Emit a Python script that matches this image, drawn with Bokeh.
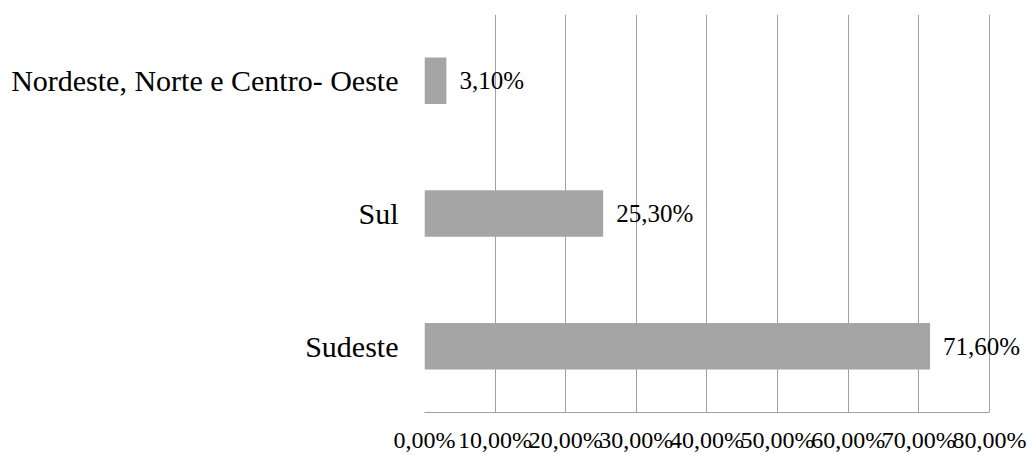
from bokeh.plotting import figure
from bokeh.models import ColumnDataSource, FactorRange, Range1d, FixedTicker, LabelSet
from bokeh.embed import file_html
from bokeh.resources import INLINE

regions = ["Sudeste", "Sul", "Nordeste, Norte e Centro- Oeste"]
shares = [71.6, 25.3, 3.1]
share_labels = ["71,60%", "25,30%", "3,10%"]
tick_values = [0, 10, 20, 30, 40, 50, 60, 70, 80]
tick_labels = ["0,00%", "10,00%", "20,00%", "30,00%", "40,00%", "50,00%", "60,00%", "70,00%", "80,00%"]

FONT = "'Liberation Serif', 'Times New Roman', serif"

src = ColumnDataSource(dict(region=regions, share=shares, label=share_labels))

# frame extends past 80% so the value labels are not clipped; axis line bounded to 0-80
p = figure(width=1032, height=455, output_backend="svg", toolbar_location=None,
           y_range=FactorRange(*regions, range_padding=0), x_range=Range1d(0, 85.4),
           min_border_left=424, min_border_right=5, min_border_top=14, min_border_bottom=41)
p.outline_line_color = None
p.background_fill_color = "white"
p.border_fill_color = "white"

p.hbar(y="region", right="share", left=0, height=0.35, source=src,
       fill_color="#a5a5a5", line_color=None)

labels = LabelSet(x="share", y="region", text="label", source=src, x_offset=13,
                  text_baseline="middle", text_align="left", text_color="#000000",
                  text_font=FONT, text_font_size="25px")
p.add_layout(labels)

p.xaxis.ticker = FixedTicker(ticks=tick_values)
p.xaxis.bounds = (tick_values[0], tick_values[-1])
p.xaxis.major_label_overrides = {t: l for t, l in zip(tick_values, tick_labels)}
p.xaxis.major_label_text_font = FONT
p.xaxis.major_label_text_font_size = "24px"
p.xaxis.major_label_text_color = "#000000"
p.xaxis.major_tick_line_color = None
p.xaxis.minor_tick_line_color = None
p.xaxis.major_tick_out = 0
p.xaxis.major_tick_in = 0
p.xaxis.major_label_standoff = 14
p.xaxis.axis_line_color = "#a0a0a0"
p.xaxis.axis_line_width = 1

p.yaxis.major_label_text_font = FONT
p.yaxis.major_label_text_font_size = "30px"
p.yaxis.major_label_text_color = "#000000"
p.yaxis.major_tick_line_color = None
p.yaxis.minor_tick_line_color = None
p.yaxis.major_tick_out = 0
p.yaxis.major_tick_in = 0
p.yaxis.axis_line_color = None
p.yaxis.major_label_standoff = 26

p.xgrid.grid_line_color = "#a0a0a0"
p.xgrid.grid_line_width = 1
p.ygrid.grid_line_color = None

open("out.html", "w").write(file_html(p, INLINE))
